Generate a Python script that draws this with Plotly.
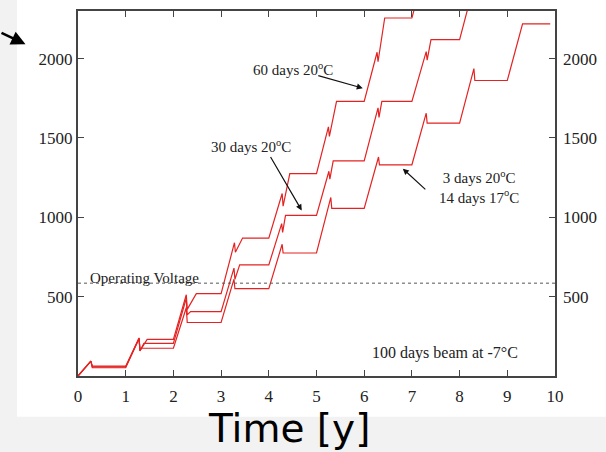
import plotly.graph_objects as go

# ---- data ----
# time in years, depletion voltage in V
A_t = [0, 0.27, 0.30, 1.00, 1.28, 1.30, 1.45, 2.00, 2.27, 2.29, 2.48, 3.00, 3.28, 3.30, 3.45, 4.00,
       4.28, 4.30, 4.44, 5.00, 5.25, 5.27, 5.42, 6.00, 6.27, 6.29, 6.43, 7.00, 7.27, 7.29, 7.45, 8.0]
A_v = [0, 94, 62, 62, 240, 160, 231, 231, 512, 420, 519, 519, 840, 780, 869, 869,
       1150, 1070, 1275, 1275, 1570, 1510, 1731, 1731, 2040, 1980, 2256, 2256, 2560, 2500, 2760, 2760]

B_t = [0, 0.27, 0.30, 1.00, 1.28, 1.30, 1.38, 2.00, 2.27, 2.29, 2.36, 3.00, 3.27, 3.29, 3.39, 4.00,
       4.27, 4.29, 4.35, 5.00, 5.26, 5.28, 5.35, 6.00, 6.29, 6.31, 6.37, 7.00, 7.30, 7.32, 7.40, 8.00,
       8.28, 8.30, 8.40, 9.0]
B_v = [0, 94, 57, 57, 238, 158, 206, 206, 490, 385, 406, 406, 680, 610, 700, 700,
       960, 905, 1012, 1012, 1290, 1240, 1356, 1356, 1690, 1630, 1731, 1731, 2044, 1990, 2119, 2119,
       2440, 2380, 2520, 2520]

C_t = [0, 0.27, 0.30, 1.00, 1.28, 1.30, 1.32, 2.00, 2.27, 2.29, 3.00, 3.27, 3.29, 4.00, 4.28, 4.30,
       5.00, 5.30, 5.32, 6.00, 6.30, 6.32, 7.00, 7.30, 7.32, 8.00, 8.30, 8.32, 9.00, 9.32, 9.90]
C_v = [0, 94, 52, 52, 235, 160, 175, 175, 430, 337, 337, 610, 550, 550, 830, 775,
       775, 1125, 1056, 1056, 1380, 1331, 1331, 1656, 1594, 1594, 1937, 1862, 1862, 2219, 2219]

operating_voltage = 585
op_t = [0, 10]

x_ticks = [0, 1, 2, 3, 4, 5, 6, 7, 8, 9, 10]
y_ticks = [500, 1000, 1500, 2000]

RED = "#e52222"
AX = "#444444"
SERIF = "Liberation Serif, Times New Roman, serif"

fig = go.Figure()
for t, v in ((A_t, A_v), (B_t, B_v), (C_t, C_v)):
    fig.add_trace(go.Scatter(x=t, y=v, mode="lines", line=dict(color=RED, width=1.2),
                             showlegend=False, hoverinfo="skip"))

fig.add_trace(go.Scatter(x=op_t, y=[operating_voltage] * 2, mode="lines",
                         line=dict(color="#555555", width=1, dash="dot"),
                         showlegend=False, hoverinfo="skip", yaxis="y2"))

txt = dict(family=SERIF, size=15, color="#222222")
ann = [
    dict(x=4.50, y=1935, text="60 days 20<sup>o</sup>C", showarrow=False, font=txt),
    dict(x=3.62, y=1452, text="30 days 20<sup>o</sup>C", showarrow=False, font=txt),
    dict(x=8.40, y=1190, text="3 days 20<sup>o</sup>C<br>14 days 17<sup>o</sup>C", showarrow=False,
         font=txt),
    dict(x=0.22, y=617, text="Operating Voltage", showarrow=False, xanchor="left", font=txt),
    dict(x=7.69, y=147, text="100 days beam at -7°C", showarrow=False,
         font=dict(family=SERIF, size=16, color="#222222")),
    # arrows
    dict(x=5.97, y=1814, ax=-46, ay=-13, text="", showarrow=True, arrowhead=2, arrowsize=1,
         arrowwidth=1.2, arrowcolor="#111111"),
    dict(x=4.69, y=1043, ax=-32, ay=-55, text="", showarrow=True, arrowhead=2, arrowsize=1,
         arrowwidth=1.2, arrowcolor="#111111"),
    dict(x=6.81, y=1306, ax=24, ay=22, text="", showarrow=True, arrowhead=2, arrowsize=1,
         arrowwidth=1.2, arrowcolor="#111111"),
    dict(x=-0.110, y=0.909, xref="paper", yref="paper", ax=-27, ay=-12, text="", showarrow=True,
         arrowhead=2, arrowsize=1.1, arrowwidth=2.6, arrowcolor="#000000"),
    dict(x=0.443, y=-0.212, xref="paper", yref="paper", text="Time [y]", showarrow=False,
         font=dict(family="Comic Sans MS, DejaVu Sans, sans-serif", size=39, color="#000000")),
]

shapes = [
    dict(type="rect", xref="paper", yref="paper", x0=-0.17, x1=-0.1279, y0=-0.12, y1=1.05,
         fillcolor="#f2f2f2", line=dict(width=0), layer="below"),
    dict(type="rect", xref="paper", yref="paper", x0=-0.17, x1=1.12, y0=-0.22, y1=-0.1117,
         fillcolor="#f2f2f2", line=dict(width=0), layer="below"),
]

axis_common = dict(showgrid=False, zeroline=False, ticks="inside", ticklen=6, tickwidth=1,
                   tickcolor=AX, tickfont=dict(family=SERIF, size=17, color="#222222"))

fig.update_layout(
    width=606, height=452,
    margin=dict(l=78, r=51, t=9, b=76),
    paper_bgcolor="white", plot_bgcolor="white",
    xaxis=dict(range=[0, 10], tickvals=x_ticks, showline=True, linewidth=2, linecolor=AX,
               mirror="ticks", ticklabelstandoff=4, **axis_common),
    yaxis=dict(range=[0, 2300], tickvals=y_ticks, showline=True, linewidth=2, linecolor=AX,
               mirror="ticks", **axis_common),
    yaxis2=dict(range=[0, 2300], tickvals=y_ticks, overlaying="y", side="right", showline=False,
                showgrid=False, zeroline=False, ticks="", ticklabelstandoff=7,
                tickfont=dict(family=SERIF, size=17, color="#222222")),
    annotations=ann,
    shapes=shapes,
)

fig.write_html("out.html")
